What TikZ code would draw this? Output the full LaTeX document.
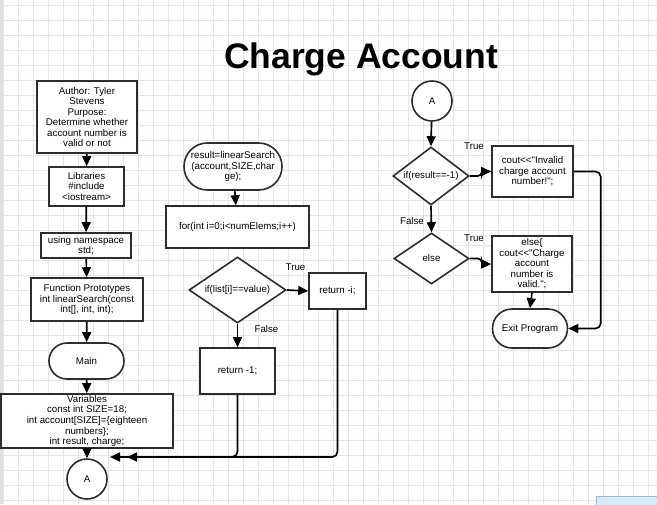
\documentclass[tikz,border=0pt]{standalone}
\usepackage{fontspec}
\setmainfont{Liberation Sans}[Ligatures=TeXOff]
\usetikzlibrary{shapes.geometric,arrows.meta}
\definecolor{gridc}{RGB}{228,228,240}
\definecolor{edgec}{RGB}{45,45,45}
\definecolor{tabfill}{RGB}{214,234,248}
\definecolor{tabdraw}{RGB}{150,190,215}
\begin{document}
\begin{tikzpicture}[x=0.75pt,y=-0.75pt,
  every node/.style={font=\fontsize{7.3pt}{7.9pt}\selectfont, align=center, inner sep=1pt},
  box/.style={draw=edgec, line width=1.2pt, fill=white, rectangle},
  dia/.style={draw=edgec, line width=1.2pt, fill=white, diamond, inner sep=0pt, aspect=1.5},
  circ/.style={draw=edgec, line width=1.2pt, fill=white, circle, minimum size=30pt, inner sep=0pt},
  conn/.style={line width=1.25pt, draw=black, -{Triangle[length=7.5pt,width=6.75pt]}},
  lbl/.style={inner sep=0pt}]
\useasboundingbox (0,0) rectangle (657,504);
\fill[white] (0,0) rectangle (657,504);
\foreach \gx in {3,18,...,657} \draw[gridc, line width=0.75pt] (\gx,0) -- (\gx,504);
\foreach \gy in {5,20,...,504} \draw[gridc, line width=0.75pt] (0,\gy) -- (657,\gy);
\fill[black!12] (0,0) rectangle (3,504);
\filldraw[fill=tabfill, draw=tabdraw, line width=0.75pt] (596,496) rectangle (662,510);

% title
\node[anchor=base, font=\fontsize{26.6pt}{30pt}\selectfont\bfseries] (title) at (361,68) {Charge Account};

% left column
\node[box, minimum width=75pt, minimum height=54pt] (author) at (87,117)
  {Author: Tyler\\Stevens\\Purpose:\\Determine whether\\account number is\\valid or not};
\node[box, minimum width=56.25pt, minimum height=29.25pt] (libs) at (86.5,186.5)
  {Libraries\\\#include\\<iostream>};
\node[box, minimum width=67.5pt, minimum height=18.75pt] (using) at (86,245.5)
  {using namespace\\std;};
\node[box, minimum width=84pt, minimum height=32.25pt] (proto) at (87,299.5)
  {Function Prototypes\\int linearSearch(const\\int[], int, int);};
\node[box, rounded corners=13.5pt, minimum width=56.25pt, minimum height=27pt] (main) at (86.5,361) {Main};
\node[box, minimum width=129pt, minimum height=40.5pt] (vars) at (87,421)
  {Variables\\const int SIZE=18;\\int account[SIZE]=\{eighteen\\numbers\};\\int result, charge;};
\node[circ] (abot) at (87,479) {A};

% middle column
\node[box, rounded corners=17.5pt, minimum width=73.5pt, minimum height=35.25pt] (search) at (233,166.5)
  {result=linearSearch\\(account,SIZE,char\\ge);};
\node[box, minimum width=107.25pt, minimum height=31.5pt] (forl) at (237.5,227)
  {for(int i=0;i<numElems;i++)};
\node[dia, minimum width=72.75pt, minimum height=49.5pt] (dlist) at (237.5,290) {if(list[i]==value)};
\node[box, minimum width=56.25pt, minimum height=34.5pt] (retm) at (237.5,371) {return -1;};
\node[box, minimum width=42.75pt, minimum height=27pt] (reti) at (337.5,291) {return -i;};
\coordinate (m1) at (127,457);
\coordinate (m2) at (110,457);

% right column
\node[circ] (atop) at (432,101) {A};
\node[dia, minimum width=57pt, minimum height=43.5pt] (dres) at (431,176) {if(result==-1)};
\node[box, minimum width=60.75pt, minimum height=38.25pt] (inval) at (532.5,171.5)
  {cout<<"Invalid\\charge account\\number!";};
\node[dia, minimum width=56.25pt, minimum height=38.25pt] (delse) at (431.5,258.5) {else};
\node[box, minimum width=60pt, minimum height=42pt] (valid) at (532,264)
  {else\{\\cout<<"Charge\\account\\number is\\valid.";};
\node[box, rounded corners=14.6pt, minimum width=56.25pt, minimum height=29.25pt] (exit) at (530,328.5) {Exit Program};

% labels
\node[lbl] (t1) at (295.5,267) {True};
\node[lbl] (f1) at (266.5,329.5) {False};
\node[lbl] (t2) at (474,146.5) {True};
\node[lbl] (f2) at (412,221.5) {False};
\node[lbl] (t3) at (474,238.5) {True};

% connectors
\draw[conn] (author) -- (libs);
\draw[conn] (libs) -- (using);
\draw[conn] (using) -- (proto);
\draw[conn] (proto) -- (main);
\draw[conn] (main) -- (vars);
\draw[conn] (vars) -- (abot);
\draw[conn] (search) -- (forl);
\draw[conn] (dlist.east) -- (reti.west);
\draw[conn] (dlist.south) -- (retm.north);
\draw[conn, rounded corners=4pt] (retm.south) -- (retm.south |- m1) -- (m1);
\draw[conn, rounded corners=4pt] (reti.south) -- (reti.south |- m2) -- (m2);
\draw[conn] (atop) -- (dres.north);
\draw[conn, rounded corners=3pt] (dres.east) -- ++(12,0) |- (inval.west);
\draw[conn] (dres.south) -- (delse.north);
\draw[conn, rounded corners=3pt] (delse.east) -- ++(12,0) |- (valid.west);
\draw[conn] (valid.south) -- (exit.north);
\draw[conn, rounded corners=4pt] (inval.east) -- ++(27,0) |- (exit.east);
\end{tikzpicture}
\end{document}
